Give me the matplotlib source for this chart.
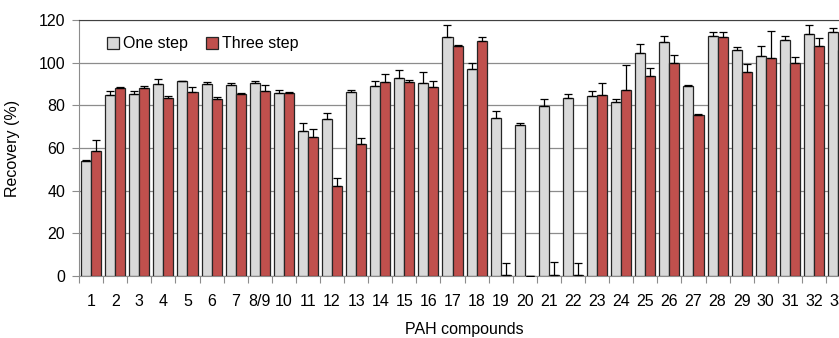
import numpy as np
import matplotlib.pyplot as plt

plt.rcParams['font.family'] = ['Liberation Sans', 'DejaVu Sans']

# PAH compound labels (8/9 co-elute)
labels = ["1", "2", "3", "4", "5", "6", "7", "8/9", "10", "11", "12", "13", "14", "15",
          "16", "17", "18", "19", "20", "21", "22", "23", "24", "25", "26", "27", "28",
          "29", "30", "31", "32", "33"]

one_step = [54, 84.8, 85.3, 90, 91.4, 89.8, 89.5, 90.3, 85.8, 68.1, 73.4, 86.2, 88.9, 93,
            90.3, 112, 97.2, 73.9, 70.6, 79.7, 83.6, 84.2, 81.7, 104.7, 109.5, 89, 112.5,
            105.8, 103, 110.5, 113.3, 114.2]
one_err = [0.5, 2, 1.4, 2.2, 0.2, 1.2, 0.8, 1.1, 1.2, 3.4, 2.8, 1.2, 2.3, 3.6,
           5.3, 5.5, 2.7, 3.3, 1.2, 3.1, 1.7, 2.3, 1.4, 4.2, 3.1, 0.6, 1.7,
           1.6, 4.7, 2, 4.4, 2.2]

three_step = [58.8, 88, 88, 83.3, 86.1, 83.1, 85.5, 86.7, 85.6, 65, 42.2, 61.9, 90.8, 90.9,
              88.4, 108, 110, 0.3, 0, 0.6, 0.6, 85, 87.2, 93.6, 99.7, 75.5, 112.2,
              95.8, 102, 99.7, 107.7, 106]
three_err = [5, 0.4, 1.1, 1.2, 2.3, 0.6, 0.3, 2.7, 0.8, 4, 3.6, 2.7, 3.7, 1.2,
             3, 0.5, 2, 6, 0, 6, 5.3, 5.3, 11.7, 3.7, 4, 0.3, 2,
             3.4, 12.7, 2.8, 3.9, 3]

x = np.arange(len(labels))
w = 0.417
fs = 11.5

fig = plt.figure(figsize=(8.39, 3.38), dpi=100)
ax = fig.add_axes([0.0942, 0.1834, 0.919, 0.7574])

ax.bar(x - w / 2, one_step, w, color='#d9d9d9', edgecolor='#262626', linewidth=0.9,
       label='One step', zorder=3)
ax.bar(x + w / 2, three_step, w, color='#c0504d', edgecolor='#262626', linewidth=0.9,
       label='Three step', zorder=3)
# only upper half of the error bars, like the original
ax.errorbar(x - w / 2, one_step, yerr=[np.zeros(len(x)), one_err], fmt='none',
            ecolor='black', elinewidth=0.9, capsize=3, capthick=0.9, zorder=4)
ax.errorbar(x + w / 2, three_step, yerr=[np.zeros(len(x)), three_err], fmt='none',
            ecolor='black', elinewidth=0.9, capsize=3, capthick=0.9, zorder=4)

ax.set_xlim(-0.5, len(x) - 0.5)
ax.set_ylim(0, 120)
ax.set_yticks(range(0, 121, 20))
ax.yaxis.grid(True, color='#8c8c8c', linewidth=0.9, zorder=0)
ax.set_axisbelow(True)

# tick marks between categories, labels at centres
ax.set_xticks(np.arange(-0.5, len(x), 1))
ax.set_xticklabels([])
ax.set_xticks(x, minor=True)
ax.set_xticklabels(labels, minor=True, fontsize=fs)
ax.tick_params(axis='x', which='major', length=5, color='#8c8c8c', direction='out')
ax.tick_params(axis='x', which='minor', length=0, pad=13)
ax.tick_params(axis='y', length=5, color='#8c8c8c', labelsize=fs, pad=5)

for s in ['left', 'bottom']:
    ax.spines[s].set_color('#8c8c8c')
ax.spines['right'].set_visible(False)
ax.spines['top'].set_color('#404040')

ax.set_xlabel('PAH compounds', fontsize=fs, labelpad=9)
ax.set_ylabel('Recovery (%)', fontsize=fs, labelpad=13)

ax.legend(loc='upper left', bbox_to_anchor=(0.022, 0.98), ncol=2, frameon=False,
          fontsize=fs, handlelength=0.75, handleheight=0.75, handletextpad=0.25,
          columnspacing=1.1, borderaxespad=0.3)

fig.savefig('out.png', dpi=100)
